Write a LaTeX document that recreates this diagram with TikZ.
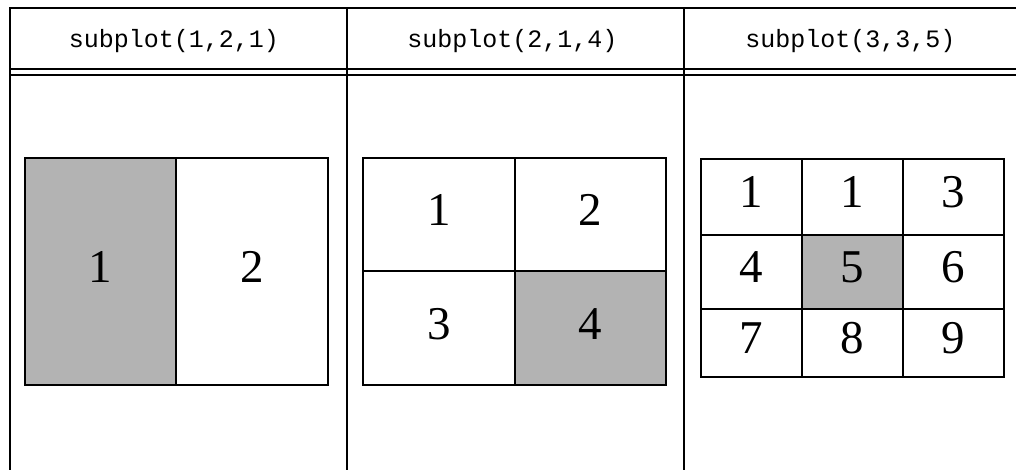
\documentclass[tikz,border=0pt]{standalone}
\usepackage{fontspec}
\setmainfont{Liberation Serif}
\newfontfamily\codefont{Liberation Mono}
\definecolor{cellgray}{HTML}{B3B3B3}
\tikzset{
  rule/.style={line width=2pt, line cap=rect},
  cell/.style={line width=2pt, draw=black},
  hdr/.style={anchor=base, inner sep=0pt, font=\codefont\fontsize{25}{25}\selectfont},
  num/.style={anchor=base, inner sep=0pt, font=\fontsize{47}{47}\selectfont},
}
\begin{document}
\begin{tikzpicture}[x=1pt,y=-1pt]
\useasboundingbox (0,0) rectangle (1016,469);
% table rules
\draw[rule] (10,8) -- (1016,8);
\draw[rule] (10,69) -- (1016,69);
\draw[rule] (10,75) -- (1016,75);
\draw[rule] (10,8) -- (10,469);
\draw[rule] (347,8) -- (347,469);
\draw[rule] (684,8) -- (684,469);
% headers
\node[hdr] (h1) at (174,47) {subplot(1,2,1)};
\node[hdr] (h2) at (512.5,47) {subplot(2,1,4)};
\node[hdr] (h3) at (850.5,47) {subplot(3,3,5)};
% panel 1
\fill[cellgray] (25,158) rectangle (176,385);
\draw[cell] (25,158) rectangle (328,385);
\draw[cell] (176,158) -- (176,385);
\node[num] (a1) at (100.5,282) {1};
\node[num] (a2) at (252,282) {2};
% panel 2
\fill[cellgray] (515,271) rectangle (666,385);
\draw[cell] (363,158) rectangle (666,385);
\draw[cell] (515,158) -- (515,385);
\draw[cell] (363,271) -- (666,271);
\node[num] (b1) at (439,225) {1};
\node[num] (b2) at (590.5,225) {2};
\node[num] (b3) at (439,339) {3};
\node[num] (b4) at (590.5,339) {4};
% panel 3
\fill[cellgray] (802,235) rectangle (903,309);
\draw[cell] (701,159) rectangle (1004,377);
\draw[cell] (802,159) -- (802,377);
\draw[cell] (903,159) -- (903,377);
\draw[cell] (701,235) -- (1004,235);
\draw[cell] (701,309) -- (1004,309);
\node[num] (c1) at (751.5,207) {1};
\node[num] (c2) at (852.5,207) {1};
\node[num] (c3) at (953.5,207) {3};
\node[num] (c4) at (751.5,282) {4};
\node[num] (c5) at (852.5,282) {5};
\node[num] (c6) at (953.5,282) {6};
\node[num] (c7) at (751.5,353) {7};
\node[num] (c8) at (852.5,353) {8};
\node[num] (c9) at (953.5,353) {9};
\end{tikzpicture}
\end{document}
